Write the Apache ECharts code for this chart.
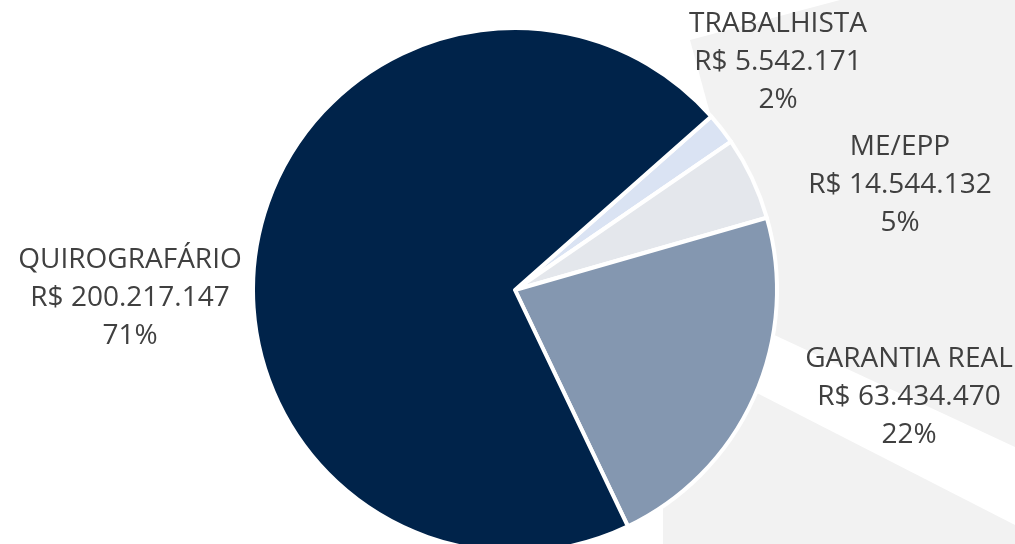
<!DOCTYPE html>
<html>
<head>
<meta charset="utf-8">
<script src="https://cdn.jsdelivr.net/npm/echarts@6/dist/echarts.min.js"></script>
<style>
html,body{margin:0;padding:0;background:#fff;}
#chart{width:1015px;height:544px;}
</style>
</head>
<body>
<div id="chart"></div>
<script>
// ---- data ----
var categories = ['TRABALHISTA', 'ME/EPP', 'GARANTIA REAL', 'QUIROGRAFÁRIO'];
var values = [5542171, 14544132, 63434470, 200217147];
var colors = ['#dae3f3', '#e4e7ec', '#8497b0', '#00234a'];

// ---- layout (not data) ----
var labelPos = [
  [778, 62],
  [900, 185],
  [909, 397],
  [130, 298]
];

function fmtBRL(v) {
  return 'R$ ' + String(v).replace(/\B(?=(\d{3})+(?!\d))/g, '.');
}

var chart = echarts.init(document.getElementById('chart'), null, {renderer: 'canvas'});

var option = {
  backgroundColor: '#ffffff',
  animation: false,
  graphic: [
    {
      type: 'polygon', z: -10, silent: true,
      shape: {points: [[840, 0], [1015, 0], [1015, 447], [770, 333], [690, 40]]},
      style: {fill: '#f2f2f2'}
    },
    {
      type: 'polygon', z: -10, silent: true,
      shape: {points: [[663, 345], [1015, 525], [1015, 544], [663, 544]]},
      style: {fill: '#f2f2f2'}
    }
  ],
  series: [{
    type: 'pie',
    center: [515, 290],
    radius: 262,
    startAngle: 41.5,
    clockwise: true,
    avoidLabelOverlap: false,
    itemStyle: {borderColor: '#ffffff', borderWidth: 4},
    label: {
      show: true,
      position: 'outside',
      formatter: function (p) {
        return p.name + '\n' + fmtBRL(p.value) + '\n' + Math.round(p.percent) + '%';
      },
      fontFamily: 'Open Sans',
      fontSize: 28,
      lineHeight: 38,
      color: '#404040',
      align: 'center'
    },
    labelLine: {show: false},
    labelLayout: function (params) {
      var p = labelPos[params.dataIndex];
      return {x: p[0], y: p[1], align: 'center', verticalAlign: 'middle'};
    },
    emphasis: {disabled: true},
    data: categories.map(function (c, i) {
      return {name: c, value: values[i], itemStyle: {color: colors[i]}};
    })
  }]
};
chart.setOption(option);
</script>
</body>
</html>
